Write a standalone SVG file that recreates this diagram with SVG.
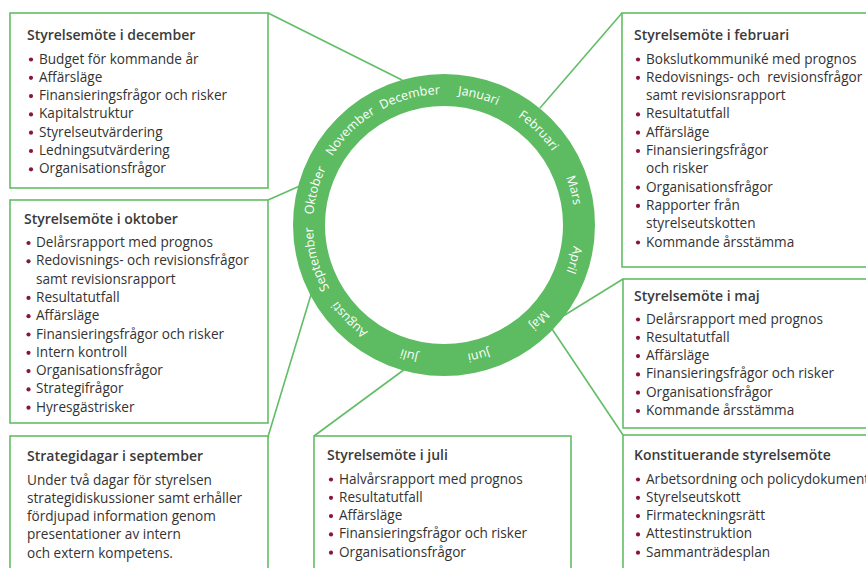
<svg xmlns="http://www.w3.org/2000/svg" width="866" height="568" viewBox="0 0 866 568">
<defs>
<style>
.box{fill:#fff;stroke:#62be66;stroke-width:1.6}
.con{stroke:#62be66;stroke-width:1.6;fill:none}
.t{font-family:"Open Sans","Noto Sans","Liberation Sans",sans-serif;fill:#333;font-size:13.6px}
.h{font-family:"Open Sans","Noto Sans","Liberation Sans",sans-serif;fill:#3a3a3a;font-size:14px;font-weight:600}
.b{fill:#8a1538}
.m{font-family:"Open Sans","Noto Sans","Liberation Sans",sans-serif;fill:#fff;font-size:12.5px;text-anchor:middle}
</style>
<path id="rp" d="M444,94 A131,131 0 1 1 444,356 A131,131 0 1 1 444,94"/>
</defs>
<rect width="866" height="568" fill="#fff"/>

<g id="connectors">
<line class="con" x1="268" y1="13" x2="402" y2="80"/>
<line class="con" x1="622" y1="13" x2="540" y2="108"/>
<line class="con" x1="268" y1="200" x2="302" y2="185"/>
<line class="con" x1="623" y1="279" x2="560" y2="318"/>
<line class="con" x1="623" y1="435" x2="550" y2="326"/>
<line class="con" x1="267" y1="440" x2="313" y2="288"/>
<line class="con" x1="314" y1="436" x2="405" y2="369"/>
</g>

<g id="ring">
<circle cx="444" cy="225" r="135" fill="none" stroke="#5dbc62" stroke-width="32"/>
<text class="m"><textPath href="#rp" startOffset="4.167%">Januari</textPath></text>
<text class="m"><textPath href="#rp" startOffset="12.5%">Februari</textPath></text>
<text class="m"><textPath href="#rp" startOffset="20.833%">Mars</textPath></text>
<text class="m"><textPath href="#rp" startOffset="29.167%">April</textPath></text>
<text class="m"><textPath href="#rp" startOffset="37.5%">Maj</textPath></text>
<text class="m"><textPath href="#rp" startOffset="45.833%">Juni</textPath></text>
<text class="m"><textPath href="#rp" startOffset="54.167%">Juli</textPath></text>
<text class="m"><textPath href="#rp" startOffset="62.5%">Augusti</textPath></text>
<text class="m"><textPath href="#rp" startOffset="70.833%">September</textPath></text>
<text class="m"><textPath href="#rp" startOffset="79.167%">Oktober</textPath></text>
<text class="m"><textPath href="#rp" startOffset="87.5%">November</textPath></text>
<text class="m"><textPath href="#rp" startOffset="95.833%">December</textPath></text>
</g>

<g id="dec">
<rect class="box" x="10" y="13" width="258" height="175"/>
<text class="h" x="27" y="40">Styrelsemöte i december</text>
<g class="b">
<circle cx="31" cy="59.5" r="2.1"/><circle cx="31" cy="77.8" r="2.1"/><circle cx="31" cy="96.1" r="2.1"/><circle cx="31" cy="114.4" r="2.1"/><circle cx="31" cy="132.7" r="2.1"/><circle cx="31" cy="151" r="2.1"/><circle cx="31" cy="169.3" r="2.1"/>
</g>
<text class="t" x="39" y="63.5">Budget för kommande år</text>
<text class="t" x="39" y="81.8">Affärsläge</text>
<text class="t" x="39" y="100.1">Finansieringsfrågor och risker</text>
<text class="t" x="39" y="118.4">Kapitalstruktur</text>
<text class="t" x="39" y="136.7">Styrelseutvärdering</text>
<text class="t" x="39" y="155">Ledningsutvärdering</text>
<text class="t" x="39" y="173.3">Organisationsfrågor</text>
</g>

<g id="feb">
<rect class="box" x="622" y="13" width="260" height="254"/>
<text class="h" x="634" y="40">Styrelsemöte i februari</text>
<g class="b">
<circle cx="638" cy="59.5" r="2.1"/><circle cx="638" cy="77.8" r="2.1"/><circle cx="638" cy="114.4" r="2.1"/><circle cx="638" cy="132.7" r="2.1"/><circle cx="638" cy="151" r="2.1"/><circle cx="638" cy="187.6" r="2.1"/><circle cx="638" cy="205.9" r="2.1"/><circle cx="638" cy="242.5" r="2.1"/>
</g>
<text class="t" x="646" y="63.5">Bokslutkommuniké med prognos</text>
<text class="t" x="646" y="81.8" xml:space="preserve">Redovisnings- och  revisionsfrågor</text>
<text class="t" x="646" y="100.1">samt revisionsrapport</text>
<text class="t" x="646" y="118.4">Resultatutfall</text>
<text class="t" x="646" y="136.7">Affärsläge</text>
<text class="t" x="646" y="155">Finansieringsfrågor</text>
<text class="t" x="646" y="173.3">och risker</text>
<text class="t" x="646" y="191.6">Organisationsfrågor</text>
<text class="t" x="646" y="209.9">Rapporter från</text>
<text class="t" x="646" y="228.2">styrelseutskotten</text>
<text class="t" x="646" y="246.5">Kommande årsstämma</text>
</g>

<g id="okt">
<rect class="box" x="10" y="200" width="258" height="223"/>
<text class="h" x="24" y="223.5">Styrelsemöte i oktober</text>
<g class="b">
<circle cx="28.5" cy="243" r="2.1"/><circle cx="28.5" cy="261.3" r="2.1"/><circle cx="28.5" cy="297.9" r="2.1"/><circle cx="28.5" cy="316.2" r="2.1"/><circle cx="28.5" cy="334.5" r="2.1"/><circle cx="28.5" cy="352.8" r="2.1"/><circle cx="28.5" cy="371.1" r="2.1"/><circle cx="28.5" cy="389.4" r="2.1"/><circle cx="28.5" cy="407.7" r="2.1"/>
</g>
<text class="t" x="36" y="247">Delårsrapport med prognos</text>
<text class="t" x="36" y="265.3">Redovisnings- och revisionsfrågor</text>
<text class="t" x="36" y="283.6">samt revisionsrapport</text>
<text class="t" x="36" y="301.9">Resultatutfall</text>
<text class="t" x="36" y="320.2">Affärsläge</text>
<text class="t" x="36" y="338.5">Finansieringsfrågor och risker</text>
<text class="t" x="36" y="356.8">Intern kontroll</text>
<text class="t" x="36" y="375.1">Organisationsfrågor</text>
<text class="t" x="36" y="393.4">Strategifrågor</text>
<text class="t" x="36" y="411.7">Hyresgästrisker</text>
</g>

<g id="maj">
<rect class="box" x="623" y="279" width="260" height="149"/>
<text class="h" x="634" y="301">Styrelsemöte i maj</text>
<g class="b">
<circle cx="638" cy="319.5" r="2.1"/><circle cx="638" cy="337.8" r="2.1"/><circle cx="638" cy="356.1" r="2.1"/><circle cx="638" cy="374.4" r="2.1"/><circle cx="638" cy="392.7" r="2.1"/><circle cx="638" cy="411" r="2.1"/>
</g>
<text class="t" x="646" y="323.5">Delårsrapport med prognos</text>
<text class="t" x="646" y="341.8">Resultatutfall</text>
<text class="t" x="646" y="360.1">Affärsläge</text>
<text class="t" x="646" y="378.4">Finansieringsfrågor och risker</text>
<text class="t" x="646" y="396.7">Organisationsfrågor</text>
<text class="t" x="646" y="415">Kommande årsstämma</text>
</g>

<g id="konst">
<rect class="box" x="623" y="435" width="260" height="150"/>
<text class="h" x="634" y="460">Konstituerande styrelsemöte</text>
<g class="b">
<circle cx="638" cy="479.5" r="2.1"/><circle cx="638" cy="497.8" r="2.1"/><circle cx="638" cy="516.1" r="2.1"/><circle cx="638" cy="534.4" r="2.1"/><circle cx="638" cy="552.7" r="2.1"/>
</g>
<text class="t" x="646" y="483.5">Arbetsordning och policydokument</text>
<text class="t" x="646" y="501.8">Styrelseutskott</text>
<text class="t" x="646" y="520.1">Firmateckningsrätt</text>
<text class="t" x="646" y="538.4">Attestinstruktion</text>
<text class="t" x="646" y="556.7">Sammanträdesplan</text>
</g>

<g id="strat">
<rect class="box" x="10" y="436" width="258" height="150"/>
<text class="h" x="27" y="460.5">Strategidagar i september</text>
<text class="t" x="27" y="484.5">Under två dagar för styrelsen</text>
<text class="t" x="27" y="502.8">strategidiskussioner samt erhåller</text>
<text class="t" x="27" y="521.1">fördjupad information genom</text>
<text class="t" x="27" y="539.4">presentationer av intern</text>
<text class="t" x="27" y="557.7">och extern kompetens.</text>
</g>

<g id="juli">
<rect class="box" x="314" y="436" width="257" height="150"/>
<text class="h" x="327" y="459.5">Styrelsemöte i juli</text>
<g class="b">
<circle cx="331" cy="479.5" r="2.1"/><circle cx="331" cy="497.8" r="2.1"/><circle cx="331" cy="516.1" r="2.1"/><circle cx="331" cy="534.4" r="2.1"/><circle cx="331" cy="552.7" r="2.1"/>
</g>
<text class="t" x="339" y="483.5">Halvårsrapport med prognos</text>
<text class="t" x="339" y="501.8">Resultatutfall</text>
<text class="t" x="339" y="520.1">Affärsläge</text>
<text class="t" x="339" y="538.4">Finansieringsfrågor och risker</text>
<text class="t" x="339" y="556.7">Organisationsfrågor</text>
</g>
</svg>
